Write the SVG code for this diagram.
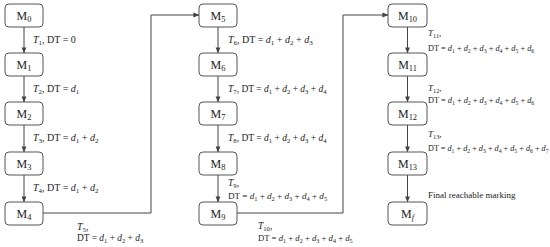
<svg xmlns="http://www.w3.org/2000/svg" width="550" height="247" viewBox="0 0 550 247">
<defs>
<marker id="ah" viewBox="0 0 8 8" refX="7.5" refY="4" markerWidth="6" markerHeight="6" orient="auto" markerUnits="userSpaceOnUse">
<path d="M0,0.8 L8,4 L0,7.2 Z" fill="#444"/>
</marker>
<style>
.box{fill:#fff;stroke:#555;stroke-width:1}
.ml{font-family:"Liberation Serif","Times New Roman",serif;font-size:12px;fill:#222;text-anchor:middle}
.lb{font-family:"Liberation Serif","Times New Roman",serif;font-size:10px;fill:#222}
.i{font-style:italic}
.s{font-size:70%;baseline-shift:-2px}
.c{fill:none;stroke:#444;stroke-width:1;marker-end:url(#ah)}
</style>
</defs>
<rect width="550" height="247" fill="#fff"/>
<g id="connectors">
<line class="c" x1="24" y1="27" x2="24" y2="53"/>
<line class="c" x1="24" y1="76" x2="24" y2="102"/>
<line class="c" x1="24" y1="125" x2="24" y2="152"/>
<line class="c" x1="24" y1="175" x2="24" y2="202"/>
<polyline class="c" points="43,213 151,213 151,15 199,15"/>
<line class="c" x1="218" y1="27" x2="218" y2="53"/>
<line class="c" x1="218" y1="76" x2="218" y2="102"/>
<line class="c" x1="218" y1="125" x2="218" y2="152"/>
<line class="c" x1="218" y1="175" x2="218" y2="202"/>
<polyline class="c" points="237,213 343,213 343,15 388,15"/>
<line class="c" x1="407.5" y1="27" x2="407.5" y2="53"/>
<line class="c" x1="407.5" y1="76" x2="407.5" y2="102"/>
<line class="c" x1="407.5" y1="125" x2="407.5" y2="152"/>
<line class="c" x1="407.5" y1="175" x2="407.5" y2="202"/>
</g>
<g id="M0"><rect class="box" x="5" y="4" width="38" height="23" rx="4"/><text class="ml" x="24" y="20">M<tspan class="s">0</tspan></text></g>
<g id="M1"><rect class="box" x="5" y="53" width="38" height="23" rx="4"/><text class="ml" x="24" y="69">M<tspan class="s">1</tspan></text></g>
<g id="M2"><rect class="box" x="5" y="102" width="38" height="23" rx="4"/><text class="ml" x="24" y="118">M<tspan class="s">2</tspan></text></g>
<g id="M3"><rect class="box" x="5" y="152" width="38" height="23" rx="4"/><text class="ml" x="24" y="168">M<tspan class="s">3</tspan></text></g>
<g id="M4"><rect class="box" x="5" y="202" width="38" height="23" rx="4"/><text class="ml" x="24" y="218">M<tspan class="s">4</tspan></text></g>
<g id="M5"><rect class="box" x="199" y="4" width="38" height="23" rx="4"/><text class="ml" x="218" y="20">M<tspan class="s">5</tspan></text></g>
<g id="M6"><rect class="box" x="199" y="53" width="38" height="23" rx="4"/><text class="ml" x="218" y="69">M<tspan class="s">6</tspan></text></g>
<g id="M7"><rect class="box" x="199" y="102" width="38" height="23" rx="4"/><text class="ml" x="218" y="118">M<tspan class="s">7</tspan></text></g>
<g id="M8"><rect class="box" x="199" y="152" width="38" height="23" rx="4"/><text class="ml" x="218" y="168">M<tspan class="s">8</tspan></text></g>
<g id="M9"><rect class="box" x="199" y="202" width="38" height="23" rx="4"/><text class="ml" x="218" y="218">M<tspan class="s">9</tspan></text></g>
<g id="M10"><rect class="box" x="388" y="4" width="39" height="23" rx="4"/><text class="ml" x="407.5" y="20">M<tspan class="s">10</tspan></text></g>
<g id="M11"><rect class="box" x="388" y="53" width="39" height="23" rx="4"/><text class="ml" x="407.5" y="69">M<tspan class="s">11</tspan></text></g>
<g id="M12"><rect class="box" x="388" y="102" width="39" height="23" rx="4"/><text class="ml" x="407.5" y="118">M<tspan class="s">12</tspan></text></g>
<g id="M13"><rect class="box" x="388" y="152" width="39" height="23" rx="4"/><text class="ml" x="407.5" y="168">M<tspan class="s">13</tspan></text></g>
<g id="Mf"><rect class="box" x="388" y="202" width="39" height="23" rx="4"/><text class="ml" x="407.5" y="218">M<tspan class="s i">f</tspan></text></g>
<g id="labels">
<text class="lb" x="33" y="43"><tspan class="i">T</tspan><tspan class="s">1</tspan>, DT = 0</text>
<text class="lb" x="33" y="92"><tspan class="i">T</tspan><tspan class="s">2</tspan>, DT = <tspan class="i">d</tspan><tspan class="s">1</tspan></text>
<text class="lb" x="33" y="141"><tspan class="i">T</tspan><tspan class="s">3</tspan>, DT = <tspan class="i">d</tspan><tspan class="s">1</tspan> + <tspan class="i">d</tspan><tspan class="s">2</tspan></text>
<text class="lb" x="33" y="191"><tspan class="i">T</tspan><tspan class="s">4</tspan>, DT = <tspan class="i">d</tspan><tspan class="s">1</tspan> + <tspan class="i">d</tspan><tspan class="s">2</tspan></text>
<text class="lb" x="77" y="230"><tspan class="i">T</tspan><tspan class="s">5</tspan>,</text>
<text class="lb" x="77" y="241" style="font-size:9.4px">DT = <tspan class="i">d</tspan><tspan class="s">1</tspan> + <tspan class="i">d</tspan><tspan class="s">2</tspan> + <tspan class="i">d</tspan><tspan class="s">3</tspan></text>
<text class="lb" x="228" y="43"><tspan class="i">T</tspan><tspan class="s">6</tspan>, DT = <tspan class="i">d</tspan><tspan class="s">1</tspan> + <tspan class="i">d</tspan><tspan class="s">2</tspan> + <tspan class="i">d</tspan><tspan class="s">3</tspan></text>
<text class="lb" x="228" y="92" style="font-size:9.5px"><tspan class="i">T</tspan><tspan class="s">7</tspan>, DT = <tspan class="i">d</tspan><tspan class="s">1</tspan> + <tspan class="i">d</tspan><tspan class="s">2</tspan> + <tspan class="i">d</tspan><tspan class="s">3</tspan> + <tspan class="i">d</tspan><tspan class="s">4</tspan></text>
<text class="lb" x="228" y="141" style="font-size:9.5px"><tspan class="i">T</tspan><tspan class="s">8</tspan>, DT = <tspan class="i">d</tspan><tspan class="s">1</tspan> + <tspan class="i">d</tspan><tspan class="s">2</tspan> + <tspan class="i">d</tspan><tspan class="s">3</tspan> + <tspan class="i">d</tspan><tspan class="s">4</tspan></text>
<text class="lb" x="228" y="186" style="font-size:9.5px"><tspan class="i">T</tspan><tspan class="s">9</tspan>,</text>
<text class="lb" x="228" y="199" style="font-size:9.1px">DT = <tspan class="i">d</tspan><tspan class="s">1</tspan> + <tspan class="i">d</tspan><tspan class="s">2</tspan> + <tspan class="i">d</tspan><tspan class="s">3</tspan> + <tspan class="i">d</tspan><tspan class="s">4</tspan> + <tspan class="i">d</tspan><tspan class="s">5</tspan></text>
<text class="lb" x="258" y="229" style="font-size:9.5px"><tspan class="i">T</tspan><tspan class="s">10</tspan>,</text>
<text class="lb" x="258" y="241" style="font-size:8.7px">DT = <tspan class="i">d</tspan><tspan class="s">1</tspan> + <tspan class="i">d</tspan><tspan class="s">2</tspan> + <tspan class="i">d</tspan><tspan class="s">3</tspan> + <tspan class="i">d</tspan><tspan class="s">4</tspan> + <tspan class="i">d</tspan><tspan class="s">5</tspan></text>
<text class="lb" x="428" y="36" style="font-size:9px"><tspan class="i">T</tspan><tspan class="s">11</tspan>,</text>
<text class="lb" x="428" y="51" style="font-size:8.3px">DT = <tspan class="i">d</tspan><tspan class="s">1</tspan> + <tspan class="i">d</tspan><tspan class="s">2</tspan> + <tspan class="i">d</tspan><tspan class="s">3</tspan> + <tspan class="i">d</tspan><tspan class="s">4</tspan> + <tspan class="i">d</tspan><tspan class="s">5</tspan> + <tspan class="i">d</tspan><tspan class="s">6</tspan></text>
<text class="lb" x="428" y="91" style="font-size:9px"><tspan class="i">T</tspan><tspan class="s">12</tspan>,</text>
<text class="lb" x="428" y="103" style="font-size:8.3px">DT = <tspan class="i">d</tspan><tspan class="s">1</tspan> + <tspan class="i">d</tspan><tspan class="s">2</tspan> + <tspan class="i">d</tspan><tspan class="s">3</tspan> + <tspan class="i">d</tspan><tspan class="s">4</tspan> + <tspan class="i">d</tspan><tspan class="s">5</tspan> + <tspan class="i">d</tspan><tspan class="s">6</tspan></text>
<text class="lb" x="428" y="137" style="font-size:9px"><tspan class="i">T</tspan><tspan class="s">13</tspan>,</text>
<text class="lb" x="428" y="151" style="font-size:8.2px">DT = <tspan class="i">d</tspan><tspan class="s">1</tspan> + <tspan class="i">d</tspan><tspan class="s">2</tspan> + <tspan class="i">d</tspan><tspan class="s">3</tspan> + <tspan class="i">d</tspan><tspan class="s">4</tspan> + <tspan class="i">d</tspan><tspan class="s">5</tspan> + <tspan class="i">d</tspan><tspan class="s">6</tspan> + <tspan class="i">d</tspan><tspan class="s">7</tspan></text>
<text class="lb" x="428" y="198" style="font-size:9px">Final reachable marking</text>
</g>
</svg>
